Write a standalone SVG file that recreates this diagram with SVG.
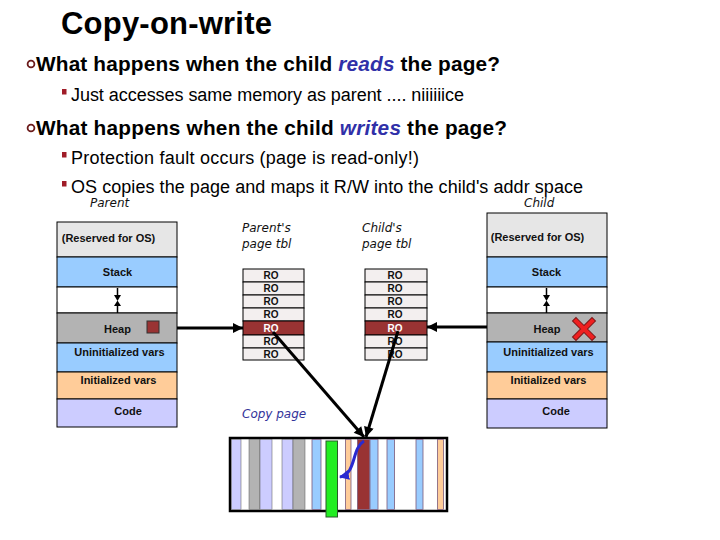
<svg xmlns="http://www.w3.org/2000/svg" width="720" height="540" viewBox="0 0 720 540">
<style>
.t{font-family:"Liberation Sans",Arial,sans-serif;fill:#000}
.title{font-size:31px;font-weight:bold}
.h{font-size:20.8px;font-weight:bold}
.s{font-size:18px}
.em{font-style:italic;fill:#3030a8}
.lbl{font-family:"Liberation Sans",Arial,sans-serif;font-size:11px;font-weight:bold;fill:#111;text-anchor:middle}
.ro{font-family:"Liberation Sans",Arial,sans-serif;font-size:10px;font-weight:bold;fill:#111;text-anchor:middle}
.it{font-family:"DejaVu Sans",Verdana,sans-serif;font-size:12px;font-style:italic;fill:#111}
.seg{stroke:#000;stroke-width:1}
.res{fill:#e6e6e6}.stk{fill:#99ccff}.gap{fill:#fff}.hp{fill:#b3b3b3}.ini{fill:#ffcc99}.cod{fill:#ccccff}
.cell{fill:#f3efef;stroke:#000;stroke-width:1}
.red{fill:#993333}
.conn{stroke:#000;stroke-width:3;fill:none}
.pg{stroke:#7a5a7a;stroke-width:0.8}
</style>
<defs>
<marker id="ah" viewBox="0 0 10 10" refX="10" refY="5" markerWidth="11" markerHeight="10" markerUnits="userSpaceOnUse" orient="auto">
<path d="M0 0 L10 5 L0 10 Z" fill="#000"/>
</marker>
<marker id="bh" viewBox="0 0 10 10" refX="9" refY="5" markerWidth="10" markerHeight="10" markerUnits="userSpaceOnUse" orient="auto">
<path d="M0 0 L10 5 L0 10 Z" fill="#2a2ad0"/>
</marker>
</defs>
<rect width="720" height="540" fill="#fff"/>

<g id="title">
<text class="t title" x="61" y="34" textLength="211">Copy-on-write</text>
</g>

<g id="bullets">
<circle cx="31" cy="64" r="3.4" fill="none" stroke="#6b1a1a" stroke-width="1.8"/>
<text class="t h" x="36" y="71" textLength="464">What happens when the child <tspan class="em">reads</tspan> the page?</text>
<rect x="62" y="89" width="4.5" height="5.5" fill="#a01c28"/>
<text class="t s" x="71" y="101" textLength="393">Just accesses same memory as parent .... niiiiiice</text>
<circle cx="31" cy="128" r="3.4" fill="none" stroke="#6b1a1a" stroke-width="1.8"/>
<text class="t h" x="36" y="135" textLength="471">What happens when the child <tspan class="em">writes</tspan> the page?</text>
<rect x="62" y="152" width="4.5" height="5.5" fill="#a01c28"/>
<text class="t s" x="71" y="164" textLength="348">Protection fault occurs (page is read-only!)</text>
<rect x="62" y="181" width="4.5" height="5.5" fill="#a01c28"/>
<text class="t s" x="71" y="193" textLength="512">OS copies the page and maps it R/W into the child's addr space</text>
</g>

<g id="parent-mem">
<text class="it" x="90" y="207">Parent</text>
<rect class="seg res" x="57" y="222" width="120" height="35"/>
<rect class="seg stk" x="57" y="257" width="120" height="30"/>
<rect class="seg gap" x="57" y="287" width="120" height="26"/>
<rect class="seg hp" x="57" y="313" width="120" height="30"/>
<rect class="seg stk" x="57" y="343" width="120" height="29"/>
<rect class="seg ini" x="57" y="372" width="120" height="27"/>
<rect class="seg cod" x="57" y="399" width="120" height="28"/>
<text class="lbl" x="108.5" y="242">(Reserved for OS)</text>
<text class="lbl" x="117.5" y="276">Stack</text>
<path d="M117.5 288 V296" stroke="#000" stroke-width="1.5"/>
<path d="M114 295 L121 295 L117.5 301 Z" fill="#000"/>
<path d="M117.5 313 V305" stroke="#000" stroke-width="1.5"/>
<path d="M114 306 L121 306 L117.5 300.5 Z" fill="#000"/>
<text class="lbl" x="117.5" y="333">Heap</text>
<rect x="147" y="321" width="12" height="12" fill="#993333" stroke="#333" stroke-width="1"/>
<text class="lbl" x="119.5" y="356">Uninitialized vars</text>
<text class="lbl" x="118.5" y="384">Initialized vars</text>
<text class="lbl" x="128" y="415">Code</text>
</g>

<g id="child-mem">
<text class="it" x="524" y="207">Child</text>
<rect class="seg res" x="487" y="213" width="120" height="44"/>
<rect class="seg stk" x="487" y="257" width="120" height="30"/>
<rect class="seg gap" x="487" y="287" width="120" height="26"/>
<rect class="seg hp" x="487" y="313" width="120" height="29"/>
<rect class="seg stk" x="487" y="342" width="120" height="30"/>
<rect class="seg ini" x="487" y="372" width="120" height="27"/>
<rect class="seg cod" x="487" y="399" width="120" height="29"/>
<text class="lbl" x="537.5" y="241">(Reserved for OS)</text>
<text class="lbl" x="546.5" y="276">Stack</text>
<path d="M546.5 288 V296" stroke="#000" stroke-width="1.5"/>
<path d="M543 295 L550 295 L546.5 301 Z" fill="#000"/>
<path d="M546.5 313 V305" stroke="#000" stroke-width="1.5"/>
<path d="M543 306 L550 306 L546.5 300.5 Z" fill="#000"/>
<text class="lbl" x="547" y="333">Heap</text>
<g stroke-linecap="square">
<path d="M576 321 L592 337 M592 321 L576 337" stroke="#7a1a1a" stroke-width="6"/>
<path d="M576 321 L592 337 M592 321 L576 337" stroke="#ee2020" stroke-width="4"/>
</g>
<text class="lbl" x="548.5" y="356">Uninitialized vars</text>
<text class="lbl" x="548.5" y="384">Initialized vars</text>
<text class="lbl" x="556" y="415">Code</text>
</g>

<g id="parent-pt">
<text class="it" x="242" y="232">Parent's</text>
<text class="it" x="242" y="248">page tbl</text>
<rect class="cell" x="243" y="269" width="61" height="13"/>
<rect class="cell" x="243" y="282" width="61" height="13"/>
<rect class="cell" x="243" y="295" width="61" height="13"/>
<rect class="cell" x="243" y="308" width="61" height="13"/>
<rect class="cell red" x="243" y="321" width="61" height="14"/>
<rect class="cell" x="243" y="335" width="61" height="13"/>
<rect class="cell" x="243" y="348" width="61" height="12"/>
<text class="ro" x="271" y="279">RO</text>
<text class="ro" x="271" y="292">RO</text>
<text class="ro" x="271" y="305">RO</text>
<text class="ro" x="271" y="318">RO</text>
<text class="ro" x="271" y="332" style="fill:#fff">RO</text>
<text class="ro" x="271" y="345">RO</text>
<text class="ro" x="271" y="358">RO</text>
</g>

<g id="child-pt">
<text class="it" x="362" y="232">Child's</text>
<text class="it" x="362" y="248">page tbl</text>
<rect class="cell" x="365" y="269" width="62" height="13"/>
<rect class="cell" x="365" y="282" width="62" height="13"/>
<rect class="cell" x="365" y="295" width="62" height="13"/>
<rect class="cell" x="365" y="308" width="62" height="13"/>
<rect class="cell red" x="365" y="321" width="62" height="14"/>
<rect class="cell" x="365" y="335" width="62" height="13"/>
<rect class="cell" x="365" y="348" width="62" height="12"/>
<text class="ro" x="395" y="279">RO</text>
<text class="ro" x="395" y="292">RO</text>
<text class="ro" x="395" y="305">RO</text>
<text class="ro" x="395" y="318">RO</text>
<text class="ro" x="395" y="332" style="fill:#fff">RO</text>
<text class="ro" x="395" y="345">RO</text>
<text class="ro" x="395" y="358">RO</text>
</g>

<g id="phys-mem">
<rect x="230" y="438" width="217" height="73" fill="#fff" stroke="#000" stroke-width="2.5"/>
<rect x="231.5" y="439.5" width="9.5" height="70" fill="#ccccff" stroke="#555" stroke-width="0.5"/>
<rect x="249" y="439.5" width="11" height="70" fill="#b3b3b3" stroke="#555" stroke-width="0.5"/>
<rect x="260" y="439.5" width="12" height="70" fill="#ccccff" stroke="#555" stroke-width="0.5"/>
<rect x="282" y="439.5" width="11" height="70" fill="#ccccff" stroke="#555" stroke-width="0.5"/>
<rect x="293" y="439.5" width="12" height="70" fill="#b3b3b3" stroke="#555" stroke-width="0.5"/>
<rect class="pg" x="312" y="439.5" width="9" height="70" fill="#99ccff"/>
<rect class="pg" x="345.5" y="439.5" width="5.5" height="70" fill="#ffcc99"/>
<rect class="pg" x="357.5" y="439.5" width="12" height="70" fill="#993333"/>
<rect class="pg" x="370" y="439.5" width="8" height="70" fill="#99ccff"/>
<rect class="pg" x="387" y="439.5" width="7.5" height="70" fill="#99ccff"/>
<rect class="pg" x="416" y="439.5" width="7" height="70" fill="#99ccff"/>
<rect class="pg" x="437.5" y="439.5" width="6" height="70" fill="#ffcc99"/>
<rect x="326" y="441" width="11.5" height="76" fill="#22ee22" stroke="#2a5a2a" stroke-width="1"/>
<text class="it" x="242" y="418" style="fill:#333399">Copy page</text>
</g>

<g id="connectors">
<path class="conn" d="M177 328 L243 328" marker-end="url(#ah)"/>
<path class="conn" d="M487 327 L427 327" marker-end="url(#ah)"/>
<path class="conn" d="M273 332 L364 437" marker-end="url(#ah)"/>
<path class="conn" d="M398 331 L366 437" marker-end="url(#ah)"/>
<path d="M364 441 C351 449 357 473 340 477" fill="none" stroke="#2a2ad0" stroke-width="3" marker-end="url(#bh)"/>
</g>
</svg>
